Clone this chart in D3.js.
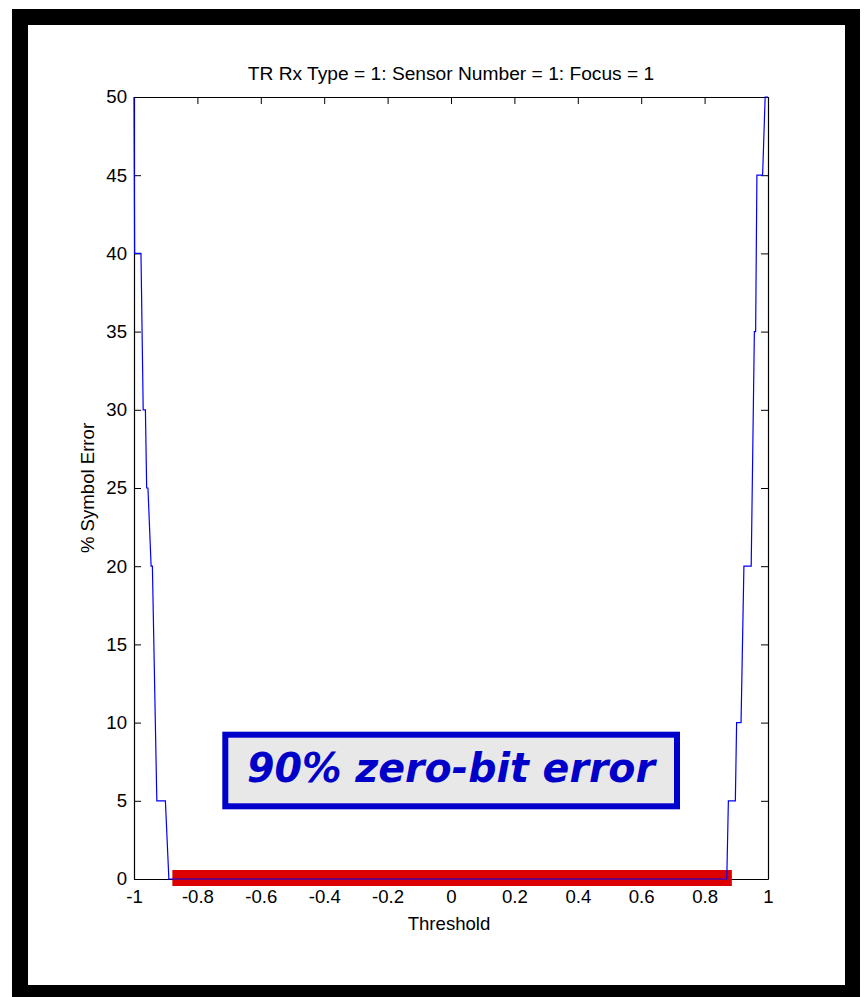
<!DOCTYPE html>
<html>
<head>
<meta charset="utf-8">
<script src="https://cdn.jsdelivr.net/npm/d3@7"></script>
<style>
  html, body { margin: 0; padding: 0; background: #ffffff; }
  svg { display: block; }
</style>
</head>
<body>
<svg id="chart" width="867" height="997"></svg>
<script>
// Symbol error rate (%) versus detection threshold
const thresholds = [
  -1.000, -0.998, -0.978, -0.971, -0.964, -0.960, -0.956, -0.946, -0.942,
  -0.928, -0.901, -0.890, 0.870, 0.875, 0.897, 0.901, 0.915, 0.924, 0.947,
  0.957, 0.961, 0.965, 0.983, 0.991, 1.000
];
const symbolError = [
  50, 40, 40, 30, 30, 25, 25, 20, 20,
  5, 5, 0, 0, 5, 5, 10, 10, 20, 20,
  35, 35, 45, 45, 50, 50
];
// Zero-error window highlighted along the axis
const zeroWindow = [-0.879, 0.886];
const annotationText = "90% zero-bit error";

const xTicks = [-1, -0.8, -0.6, -0.4, -0.2, 0, 0.2, 0.4, 0.6, 0.8, 1];
const yTicks = [0, 5, 10, 15, 20, 25, 30, 35, 40, 45, 50];
const titleText = "TR Rx Type = 1: Sensor Number = 1: Focus = 1";
const xLabel = "Threshold";
const yLabel = "% Symbol Error";

(function draw() {
  const svg = d3.select("#chart");
  const font = "'Liberation Sans', Arial, sans-serif";
  const fontSize = 18.6;

  // Outer frame
  svg.append("rect").attr("x", 12).attr("y", 9).attr("width", 848).attr("height", 988).attr("fill", "#000");
  svg.append("rect").attr("x", 28).attr("y", 25).attr("width", 817).attr("height", 960).attr("fill", "#fff");

  const plotLeft = 134, plotRight = 768, plotTop = 97, plotBottom = 879;
  const x = d3.scaleLinear().domain([-1, 1]).range([plotLeft, plotRight]);
  const y = d3.scaleLinear().domain([0, 50]).range([plotBottom, plotTop]);

  const tickLen = 7;

  // Axes (box style, ticks pointing inward)
  const gx = svg.append("g").attr("transform", `translate(0,${plotBottom})`)
    .call(d3.axisBottom(x).tickValues(xTicks).tickSizeInner(-tickLen).tickSizeOuter(0).tickPadding(11)
      .tickFormat(d => String(d)));
  const gxTop = svg.append("g").attr("transform", `translate(0,${plotTop})`)
    .call(d3.axisTop(x).tickValues(xTicks).tickSizeInner(-tickLen).tickSizeOuter(0).tickFormat(""));
  const gy = svg.append("g").attr("transform", `translate(${plotLeft},0)`)
    .call(d3.axisLeft(y).tickValues(yTicks).tickSizeInner(-tickLen).tickSizeOuter(0).tickPadding(7));
  const gyRight = svg.append("g").attr("transform", `translate(${plotRight},0)`)
    .call(d3.axisRight(y).tickValues(yTicks).tickSizeInner(-tickLen).tickSizeOuter(0).tickFormat(""));

  [gx, gxTop, gy, gyRight].forEach(g => {
    g.select(".domain").attr("stroke", "#000").attr("stroke-width", 1.2);
    g.selectAll(".tick line").attr("stroke", "#000").attr("stroke-width", 1);
    g.selectAll("text").attr("font-family", font).attr("font-size", fontSize).attr("fill", "#000");
  });

  // Highlighted zero-error window
  svg.append("line")
    .attr("x1", x(zeroWindow[0])).attr("x2", x(zeroWindow[1]))
    .attr("y1", y(0) - 1).attr("y2", y(0) - 1)
    .attr("stroke", "#dd0000").attr("stroke-width", 16);

  // Error curve
  const pts = thresholds.map((t, i) => [t, symbolError[i]]);
  svg.append("path")
    .datum(pts)
    .attr("fill", "none")
    .attr("stroke", "#0000ff")
    .attr("stroke-width", 1.2)
    .attr("d", d3.line().x(d => x(d[0])).y(d => y(d[1])));

  // Title and axis labels
  svg.append("text").attr("x", 451).attr("y", 80).attr("text-anchor", "middle")
    .attr("font-family", font).attr("font-size", 19.2).text(titleText);
  svg.append("text").attr("x", 449).attr("y", 930).attr("text-anchor", "middle")
    .attr("font-family", font).attr("font-size", fontSize).text(xLabel);
  svg.append("text").attr("transform", "translate(94,488) rotate(-90)").attr("text-anchor", "middle")
    .attr("font-family", font).attr("font-size", fontSize).text(yLabel);

  // Annotation box
  svg.append("rect")
    .attr("x", 225.3).attr("y", 734.7).attr("width", 451.7).attr("height", 71.6)
    .attr("fill", "#e8e8e8").attr("stroke", "#0000cc").attr("stroke-width", 6);
  svg.append("text")
    .attr("x", 247).attr("y", 782)
    .attr("font-family", "'Comic Sans MS', 'DejaVu Sans', sans-serif")
    .attr("font-weight", "bold").attr("font-style", "italic")
    .attr("font-size", 40)
    .attr("fill", "#0000c8")
    .attr("textLength", 408).attr("lengthAdjust", "spacingAndGlyphs")
    .text(annotationText);
})();
</script>
</body>
</html>
